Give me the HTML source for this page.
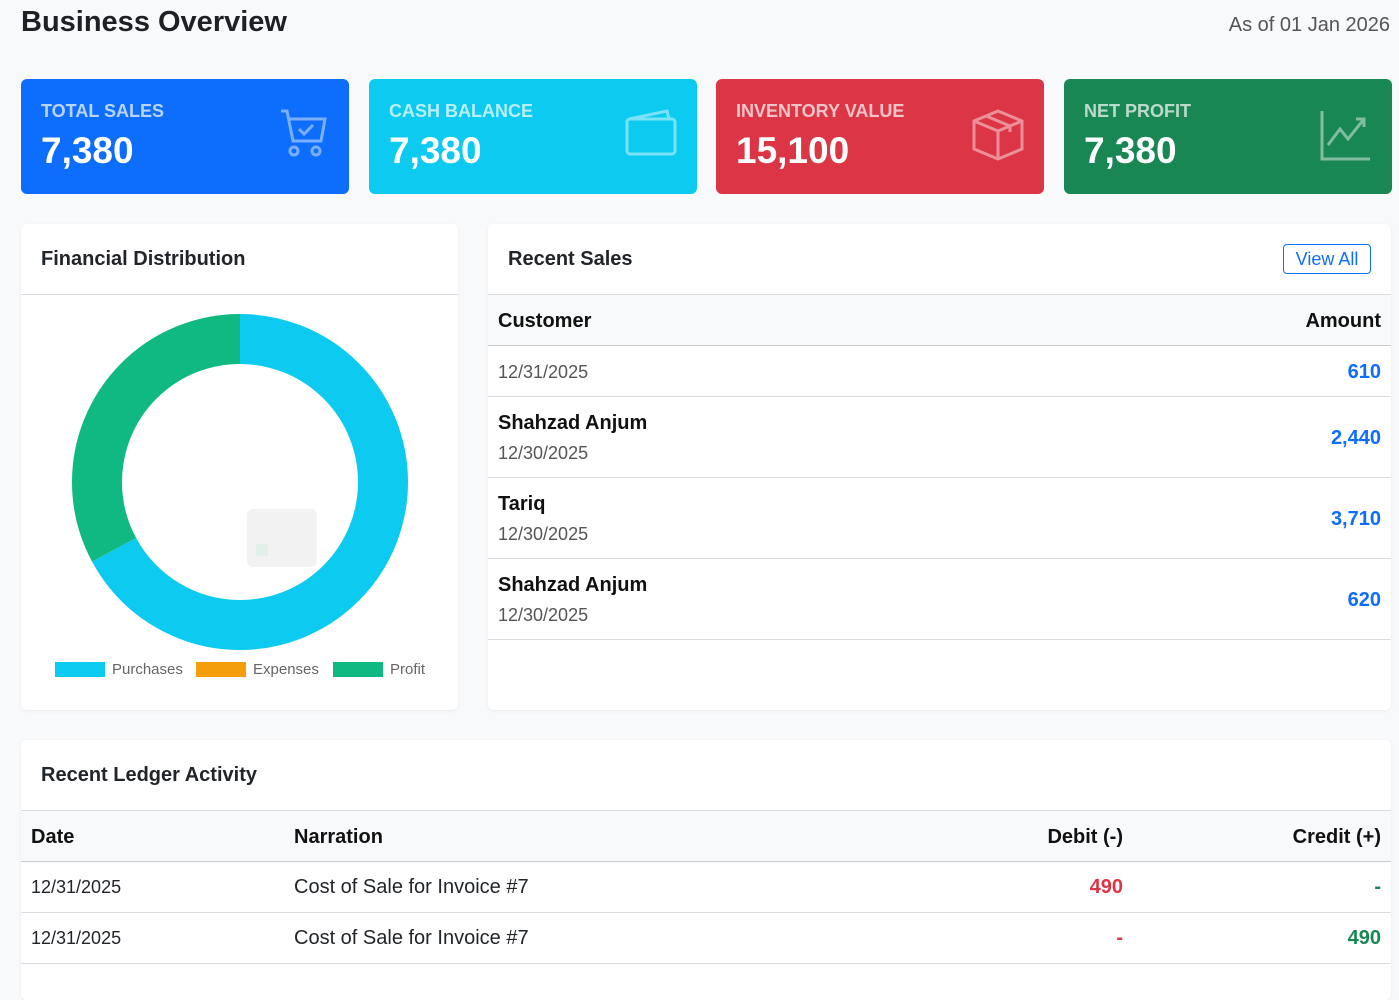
<!DOCTYPE html>
<html><head><meta charset="utf-8"><style>
*{margin:0;padding:0;box-sizing:border-box}
body{width:1399px;height:975px;background:#f8f9fb;font-family:"Liberation Sans",sans-serif;position:relative;overflow:hidden;color:#212529}
.a{position:absolute;white-space:nowrap}
.card{position:absolute;top:79px;width:328px;height:115px;border-radius:6px;color:#fff}
.card .l{position:absolute;left:20px;top:22px;font-size:18px;font-weight:bold;opacity:.7}
.card .v{position:absolute;left:20px;top:51px;font-size:37px;font-weight:bold}
.card svg{position:absolute;right:20px;top:30px;opacity:.45}
.panel{position:absolute;background:#fff;border-radius:6px;box-shadow:0 1px 3px rgba(0,0,0,.06)}
.hl{position:absolute;left:0;right:0;height:1px;background:#d9dce0}
.th{font-weight:bold;font-size:20px;color:#111}
.td{font-size:18px}
</style></head><body>
<div class="a" style="left:21px;top:6px;font-size:29px;font-weight:bold;color:#1d2125">Business Overview</div>
<div class="a" style="right:9px;top:14px;font-size:20px;color:#555">As of 01 Jan 2026</div>

<div class="card" style="left:21px;background:#0d6efd"><div class="l">TOTAL SALES</div><div class="v">7,380</div>
<svg width="50" height="50" viewBox="0 0 50 50" fill="none" stroke="#fff" stroke-width="3"><path d="M2 2h6l6 30h28l4-22H10"/><path d="M20 20l5 5 9-9"/><circle cx="15" cy="42" r="4"/><circle cx="37" cy="42" r="4"/></svg></div>
<div class="card" style="left:369px;background:#0dcaf0"><div class="l">CASH BALANCE</div><div class="v">7,380</div>
<svg width="52" height="48" viewBox="0 0 52 48" fill="none" stroke="#fff" stroke-width="3"><rect x="2" y="10" width="48" height="35" rx="3"/><path d="M4 10l38-8 2 8"/></svg></div>
<div class="card" style="left:716px;background:#dc3545"><div class="l">INVENTORY VALUE</div><div class="v">15,100</div>
<svg width="52" height="52" viewBox="0 0 52 52" fill="none" stroke="#fff" stroke-width="3"><path d="M26 2l24 10v28L26 50 2 40V12z"/><path d="M2 12l24 10 24-10M26 22v28M14 7l24 10v6"/></svg></div>
<div class="card" style="left:1064px;background:#198754"><div class="l">NET PROFIT</div><div class="v">7,380</div>
<svg width="52" height="52" viewBox="0 0 52 52" fill="none" stroke="#fff" stroke-width="3"><path d="M2 2v48h48"/><path d="M8 36l12-16 8 10 16-20M36 10h8v8"/></svg></div>

<div class="panel" style="left:21px;top:224px;width:437px;height:486px">
<div class="a" style="left:20px;top:24px;font-size:20px;font-weight:bold">Financial Distribution</div>
<div class="hl" style="top:70px"></div>
<svg class="a" style="left:0;top:0" width="437" height="486">
<g transform="rotate(-90 219 258)">
<circle cx="219" cy="258" r="143" fill="none" stroke="#0dcaf0" stroke-width="50" stroke-dasharray="603 1000"/>
<circle cx="219" cy="258" r="143" fill="none" stroke="#10b981" stroke-width="50" stroke-dasharray="0 603 296 1000"/>
</g>
<rect x="226" y="285" width="70" height="58" rx="6" fill="#f2f2f2"/>
<rect x="235" y="320" width="12" height="12" fill="#e3efe9"/>
<rect x="34" y="438" width="50" height="15" fill="#0dcaf0"/>
<text x="91" y="450" font-size="15" fill="#666" font-family="Liberation Sans">Purchases</text>
<rect x="175" y="438" width="50" height="15" fill="#f59e0b"/>
<text x="232" y="450" font-size="15" fill="#666" font-family="Liberation Sans">Expenses</text>
<rect x="312" y="438" width="50" height="15" fill="#10b981"/>
<text x="369" y="450" font-size="15" fill="#666" font-family="Liberation Sans">Profit</text>
</svg>
</div>

<div class="panel" style="left:488px;top:224px;width:903px;height:486px">
<div class="a" style="left:20px;top:24px;font-size:20px;font-weight:bold">Recent Sales</div>
<div class="a" style="right:20px;top:20px;width:88px;height:30px;border:1px solid #0d6efd;border-radius:4px;color:#0d6efd;font-size:18px;text-align:center;line-height:28px">View All</div>
<div class="hl" style="top:70px"></div>
<div class="a" style="left:0;right:0;top:71px;height:50px;background:#f8f9fa"></div>
<div class="a th" style="left:10px;top:86px">Customer</div>
<div class="a th" style="right:10px;top:86px">Amount</div>
<div class="hl" style="top:121px;background:#c8cbcf"></div>
<div class="a td" style="left:10px;top:138px;color:#555">12/31/2025</div>
<div class="a th" style="right:10px;top:137px;color:#0d6efd">610</div>
<div class="hl" style="top:172px"></div>
<div class="a th" style="left:10px;top:188px">Shahzad Anjum</div>
<div class="a td" style="left:10px;top:219px;color:#555">12/30/2025</div>
<div class="a th" style="right:10px;top:203px;color:#0d6efd">2,440</div>
<div class="hl" style="top:253px"></div>
<div class="a th" style="left:10px;top:269px">Tariq</div>
<div class="a td" style="left:10px;top:300px;color:#555">12/30/2025</div>
<div class="a th" style="right:10px;top:284px;color:#0d6efd">3,710</div>
<div class="hl" style="top:334px"></div>
<div class="a th" style="left:10px;top:350px">Shahzad Anjum</div>
<div class="a td" style="left:10px;top:381px;color:#555">12/30/2025</div>
<div class="a th" style="right:10px;top:365px;color:#0d6efd">620</div>
<div class="hl" style="top:415px"></div>
</div>

<div class="panel" style="left:21px;top:740px;width:1370px;height:260px">
<div class="a" style="left:20px;top:24px;font-size:20px;font-weight:bold">Recent Ledger Activity</div>
<div class="hl" style="top:70px"></div>
<div class="a" style="left:0;right:0;top:71px;height:50px;background:#f8f9fa"></div>
<div class="a th" style="left:10px;top:86px">Date</div>
<div class="a th" style="left:273px;top:86px">Narration</div>
<div class="a th" style="right:268px;top:86px">Debit (-)</div>
<div class="a th" style="right:10px;top:86px">Credit (+)</div>
<div class="hl" style="top:121px;background:#c8cbcf"></div>
<div class="a td" style="left:10px;top:137px">12/31/2025</div>
<div class="a" style="left:273px;top:136px;font-size:20px">Cost of Sale for Invoice #7</div>
<div class="a th" style="right:268px;top:136px;color:#dc3545">490</div>
<div class="a th" style="right:10px;top:136px;color:#198754">-</div>
<div class="hl" style="top:172px"></div>
<div class="a td" style="left:10px;top:188px">12/31/2025</div>
<div class="a" style="left:273px;top:187px;font-size:20px">Cost of Sale for Invoice #7</div>
<div class="a th" style="right:268px;top:187px;color:#dc3545">-</div>
<div class="a th" style="right:10px;top:187px;color:#198754">490</div>
<div class="hl" style="top:223px"></div>
</div>
</body></html>
